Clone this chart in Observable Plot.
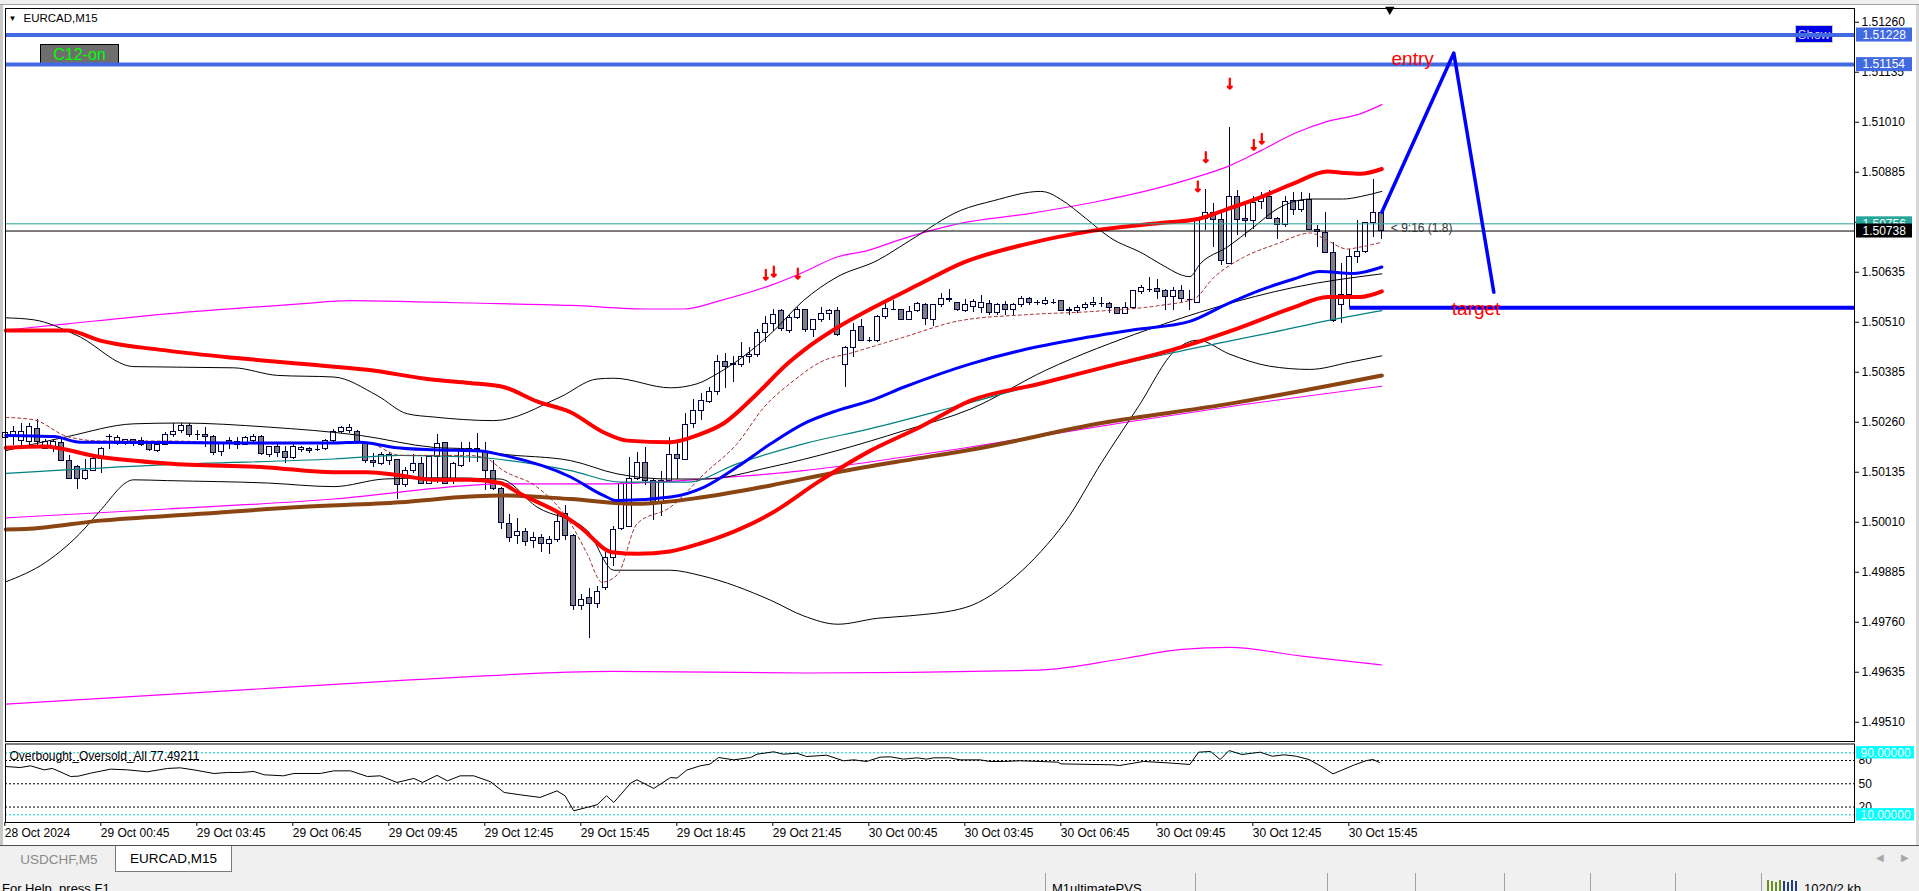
<!DOCTYPE html>
<html><head><meta charset="utf-8">
<script src="https://cdn.jsdelivr.net/npm/d3@7"></script>
<script src="https://cdn.jsdelivr.net/npm/@observablehq/plot@0.6"></script>
<style>
body{margin:0;width:1919px;height:891px;overflow:hidden;background:#fff;position:relative;font-family:"Liberation Sans",Arial,sans-serif}
.abs{position:absolute}
#main{position:absolute;left:0;top:0;z-index:2}
#osc{position:absolute;left:0;top:742px;z-index:2}
.lbl{font-size:13.5px;line-height:24px;text-align:center}
</style></head><body>
<div class="abs" style="left:0;top:0;width:1919px;height:4px;background:#f0f0f0;border-bottom:1px solid #a0a0a0"></div>
<div class="abs" style="left:0;top:5px;width:3px;height:840px;background:#c8c8c8"></div>
<div class="abs" style="left:1916px;top:5px;width:3px;height:840px;background:#d8d8d8"></div>
<div class="abs" style="left:40px;top:44px;width:77px;height:20px;background:#6e6e6e;border:1px solid #000;z-index:1;color:#00ff00;font-size:16px;line-height:20px;text-align:center">C12-on</div>
<div class="abs" style="left:1795px;top:25px;width:36px;height:16px;background:#0000e6;border:1px solid #c8c8c8;z-index:1;color:#d8d8ff;font-size:13px;line-height:17px;text-align:center">Show</div>
<div id="main"></div>
<div id="osc"></div>
<div class="abs" style="left:0;top:845px;width:1919px;height:1px;background:#505050"></div>
<div class="abs" style="left:0;top:846px;width:1919px;height:27px;background:#f0f0f0"></div>
<div class="abs lbl" style="left:4px;top:848px;width:110px;height:24px;color:#8a8a8a">USDCHF,M5</div>
<div class="abs lbl" style="left:115px;top:846px;width:115px;height:25px;background:#fff;border:1px solid #7a7a7a;border-top:none;color:#000;line-height:26px">EURCAD,M15</div>
<div class="abs" style="left:1876px;top:852px;color:#a8a8a8;font-size:10px">&#9664;</div>
<div class="abs" style="left:1901px;top:852px;color:#a8a8a8;font-size:10px">&#9654;</div>
<div id="status" class="abs" style="left:0;top:873px;width:1919px;height:18px;background:#f0f0f0;font-size:13px;line-height:15px"></div>
<script>
// ---------- data ----------
const candleOpen = [1.50220,1.50224,1.50214,1.50210,1.50243,1.50193,1.50197,1.50208,1.50164,1.50147,
1.50118,1.50139,1.50168,1.50222,1.50206,1.50206,1.50216,1.50213,1.50206,1.50187,
1.50204,1.50227,1.50237,1.50251,1.50229,1.50229,1.50224,1.50185,1.50212,1.50210,
1.50203,1.50214,1.50223,1.50179,1.50199,1.50185,1.50171,1.50191,1.50193,1.50193,
1.50193,1.50213,1.50235,1.50237,1.50235,1.50208,1.50164,1.50156,1.50164,1.50166,
1.50102,1.50137,1.50156,1.50106,1.50172,1.50208,1.50118,1.50151,1.50189,1.50193,
1.50185,1.50139,1.50093,1.50006,1.49975,1.49985,1.49962,1.49970,1.49955,1.49965,
1.50030,1.49975,1.49800,1.49820,1.49805,1.49846,1.49920,1.49993,1.49998,1.50118,
1.50157,1.50114,1.50056,1.50114,1.50178,1.50166,1.50256,1.50288,1.50310,1.50335,
1.50410,1.50402,1.50404,1.50424,1.50427,1.50483,1.50506,1.50537,1.50489,1.50521,
1.50541,1.50491,1.50516,1.50531,1.50538,1.50404,1.50446,1.50498,1.50464,1.50463,
1.50523,1.50543,1.50541,1.50516,1.50538,1.50552,1.50516,1.50552,1.50566,1.50558,
1.50539,1.50549,1.50546,1.50556,1.50533,1.50553,1.50541,1.50554,1.50569,1.50558,
1.50556,1.50560,1.50563,1.50539,1.50539,1.50546,1.50552,1.50558,1.50556,1.50546,
1.50531,1.50546,1.50585,1.50593,1.50593,1.50589,1.50573,1.50589,1.50568,1.50558,
1.50768,1.50783,1.50766,1.50656,1.50824,1.50768,1.50764,1.50810,1.50823,1.50768,
1.50752,1.50813,1.50791,1.50816,1.50741,1.50733,1.50683,1.50554,1.50577,1.50673,
1.50685,1.50758,1.50783];
const candleHigh = [1.50240,1.50250,1.50256,1.50256,1.50268,1.50216,1.50216,1.50216,1.50176,1.50151,
1.50168,1.50171,1.50197,1.50229,1.50227,1.50218,1.50218,1.50223,1.50210,1.50208,
1.50235,1.50256,1.50256,1.50256,1.50239,1.50247,1.50227,1.50208,1.50223,1.50223,
1.50224,1.50229,1.50227,1.50199,1.50206,1.50199,1.50210,1.50200,1.50197,1.50202,
1.50216,1.50241,1.50249,1.50254,1.50239,1.50210,1.50182,1.50185,1.50185,1.50168,
1.50147,1.50179,1.50172,1.50176,1.50229,1.50210,1.50160,1.50210,1.50210,1.50231,
1.50210,1.50164,1.50098,1.50029,1.50020,1.49995,1.49985,1.49980,1.49975,1.50030,
1.50051,1.49980,1.49830,1.49845,1.49850,1.49935,1.50000,1.50110,1.50171,1.50185,
1.50198,1.50118,1.50137,1.50223,1.50210,1.50281,1.50316,1.50331,1.50348,1.50427,
1.50433,1.50424,1.50460,1.50448,1.50491,1.50524,1.50541,1.50543,1.50527,1.50548,
1.50543,1.50518,1.50546,1.50543,1.50548,1.50449,1.50506,1.50516,1.50471,1.50527,
1.50560,1.50564,1.50543,1.50549,1.50560,1.50556,1.50554,1.50581,1.50593,1.50560,
1.50566,1.50566,1.50577,1.50564,1.50556,1.50562,1.50556,1.50574,1.50573,1.50564,
1.50573,1.50568,1.50564,1.50546,1.50552,1.50560,1.50573,1.50573,1.50560,1.50548,
1.50560,1.50589,1.50602,1.50621,1.50618,1.50591,1.50598,1.50602,1.50589,1.50772,
1.50843,1.50806,1.50781,1.50996,1.50839,1.50810,1.50824,1.50835,1.50839,1.50773,
1.50824,1.50835,1.50835,1.50831,1.50752,1.50785,1.50710,1.50658,1.50691,1.50764,
1.50760,1.50866,1.50783];
const candleLow = [1.50212,1.50203,1.50200,1.50200,1.50202,1.50191,1.50185,1.50164,1.50118,1.50091,
1.50114,1.50139,1.50132,1.50193,1.50202,1.50202,1.50200,1.50200,1.50187,1.50185,
1.50202,1.50223,1.50231,1.50223,1.50214,1.50197,1.50176,1.50174,1.50193,1.50191,
1.50202,1.50210,1.50176,1.50172,1.50172,1.50157,1.50168,1.50185,1.50181,1.50187,
1.50189,1.50210,1.50232,1.50232,1.50208,1.50157,1.50147,1.50151,1.50151,1.50068,
1.50097,1.50132,1.50104,1.50104,1.50106,1.50104,1.50104,1.50147,1.50160,1.50160,
1.50089,1.50089,1.49993,1.49960,1.49955,1.49950,1.49945,1.49935,1.49930,1.49960,
1.49965,1.49790,1.49790,1.49720,1.49795,1.49840,1.49900,1.49989,1.49996,1.50114,
1.50102,1.50014,1.50024,1.50114,1.50116,1.50166,1.50244,1.50264,1.50306,1.50327,
1.50345,1.50360,1.50398,1.50406,1.50423,1.50460,1.50488,1.50488,1.50483,1.50518,
1.50485,1.50471,1.50510,1.50514,1.50474,1.50346,1.50421,1.50463,1.50460,1.50460,
1.50516,1.50539,1.50514,1.50514,1.50535,1.50502,1.50499,1.50548,1.50560,1.50538,
1.50535,1.50535,1.50532,1.50527,1.50527,1.50527,1.50527,1.50547,1.50552,1.50552,
1.50552,1.50554,1.50537,1.50527,1.50533,1.50539,1.50548,1.50548,1.50533,1.50531,
1.50529,1.50543,1.50579,1.50585,1.50568,1.50539,1.50539,1.50560,1.50539,1.50558,
1.50739,1.50698,1.50652,1.50656,1.50727,1.50723,1.50743,1.50793,1.50768,1.50718,
1.50746,1.50777,1.50785,1.50739,1.50696,1.50683,1.50510,1.50508,1.50546,1.50658,
1.50681,1.50723,1.50718];
const candleClose = [1.50234,1.50235,1.50235,1.50249,1.50210,1.50210,1.50210,1.50164,1.50118,1.50118,
1.50139,1.50168,1.50193,1.50223,1.50221,1.50216,1.50206,1.50202,1.50191,1.50204,
1.50229,1.50235,1.50251,1.50227,1.50229,1.50223,1.50182,1.50206,1.50206,1.50203,
1.50221,1.50223,1.50181,1.50197,1.50182,1.50171,1.50197,1.50196,1.50187,1.50193,
1.50213,1.50235,1.50246,1.50246,1.50210,1.50162,1.50157,1.50179,1.50179,1.50102,
1.50137,1.50156,1.50106,1.50172,1.50206,1.50106,1.50156,1.50189,1.50193,1.50191,
1.50139,1.50093,1.50008,1.49970,1.49985,1.49960,1.49970,1.49955,1.49965,1.50010,
1.49975,1.49800,1.49815,1.49805,1.49835,1.49920,1.49990,1.50106,1.50118,1.50157,
1.50114,1.50056,1.50114,1.50177,1.50168,1.50254,1.50288,1.50313,1.50335,1.50410,
1.50398,1.50406,1.50423,1.50427,1.50483,1.50506,1.50527,1.50493,1.50521,1.50541,
1.50491,1.50516,1.50531,1.50538,1.50477,1.50446,1.50488,1.50464,1.50464,1.50524,
1.50543,1.50543,1.50516,1.50535,1.50556,1.50518,1.50552,1.50568,1.50567,1.50541,
1.50552,1.50560,1.50558,1.50533,1.50552,1.50541,1.50552,1.50569,1.50558,1.50559,
1.50562,1.50560,1.50539,1.50540,1.50546,1.50552,1.50559,1.50558,1.50546,1.50531,
1.50546,1.50587,1.50596,1.50593,1.50585,1.50573,1.50589,1.50568,1.50568,1.50768,
1.50783,1.50766,1.50663,1.50824,1.50766,1.50764,1.50808,1.50823,1.50768,1.50752,
1.50810,1.50791,1.50813,1.50741,1.50735,1.50683,1.50512,1.50578,1.50673,1.50685,
1.50758,1.50783,1.50739];

// indicator lines: [bar index, price]
const maSlowUpper = [[0,1.50489],[7.7,1.50489],[11.8,1.50464],[20.2,1.50439],[28.5,1.50421],[36.8,1.50406],[45.2,1.50391],[53.5,1.50366],[58,1.50358],[62.2,1.50348],[66.4,1.50312],[70.6,1.50285],[74.7,1.50235],[77.7,1.50214],[83.1,1.50210],[86.4,1.50227],[89.8,1.50258],[93.5,1.50323],[97.7,1.50406],[99.7,1.50439],[103.9,1.50496],[108.1,1.50543],[114.3,1.50606],[119.3,1.50656],[127.7,1.50706],[136,1.50739],[144.3,1.50758],[149,1.50768],[152.7,1.50793],[156.9,1.50823],[161,1.50857],[165.2,1.50887],[167.3,1.50883],[169.3,1.50881],[172,1.50893]];
const maSlowLower = [[0,1.50196],[4.7,1.50199],[11.8,1.50173],[20.2,1.50157],[32.7,1.50147],[41,1.50135],[45.2,1.50135],[49.3,1.50127],[53.5,1.50116],[58,1.50116],[61.8,1.50108],[64.3,1.50081],[69.7,1.50027],[71.8,1.49998],[75.8,1.49935],[79,1.49931],[83,1.49937],[87,1.49958],[91.3,1.49989],[95.6,1.50031],[101.8,1.50114],[108.1,1.50189],[114.3,1.50248],[120.6,1.50314],[129,1.50355],[137,1.50396],[146,1.50442],[153.5,1.50491],[161,1.50547],[165.2,1.50573],[169.3,1.50573],[172,1.50587]];
const maBlue = [[0,1.50227],[6,1.50224],[9.3,1.50210],[20,1.50209],[30,1.50208],[41,1.50208],[44.3,1.50210],[48.5,1.50197],[53.5,1.50191],[59.3,1.50188],[61.8,1.50179],[70.6,1.50123],[74.7,1.50077],[76.4,1.50064],[83.1,1.50073],[87.3,1.50098],[91.4,1.50148],[95.6,1.50206],[99.7,1.50256],[103.9,1.50289],[108.1,1.50314],[112.3,1.50348],[120.6,1.50406],[127,1.50440],[134,1.50468],[141,1.50491],[148,1.50512],[152.7,1.50556],[156.9,1.50591],[161,1.50618],[164.3,1.50637],[168.5,1.50632],[172,1.50648]];
const maTeal = [[0,1.50132],[20.2,1.50154],[41,1.50168],[49.3,1.50177],[58,1.50173],[70.6,1.50139],[76.9,1.50110],[85.2,1.50110],[91.4,1.50156],[99.7,1.50206],[108.1,1.50244],[118.5,1.50298],[130,1.50360],[145,1.50430],[159.8,1.50491],[165.2,1.50514],[172,1.50539]];
const maBrown = [[0,1.49992],[2.5,1.49993],[11.8,1.50014],[24.3,1.50031],[36.8,1.50048],[49.3,1.50060],[58,1.50074],[61.8,1.50077],[70.6,1.50068],[78.9,1.50056],[87.3,1.50073],[95.6,1.50102],[103.9,1.50135],[112.3,1.50164],[120.6,1.50191],[137,1.50258],[152.3,1.50304],[172,1.50377]];
const maFastDotted = [[0,1.50272],[3.5,1.50266],[7.7,1.50224],[12,1.50213],[20.2,1.50213],[32.7,1.50206],[41,1.50208],[45.2,1.50208],[49.3,1.50177],[57.7,1.50177],[60,1.50170],[62.2,1.50139],[66.4,1.50098],[70.5,1.50010],[72.7,1.49930],[74.5,1.49860],[76.5,1.49880],[78.9,1.50006],[83.1,1.50048],[87.3,1.50131],[91.4,1.50206],[94.8,1.50298],[98.5,1.50364],[101.8,1.50410],[106,1.50435],[112.3,1.50473],[119.3,1.50514],[127.7,1.50529],[136,1.50537],[144.3,1.50552],[148.5,1.50568],[151,1.50622],[154.7,1.50672],[158.9,1.50706],[163.1,1.50733],[165.2,1.50714],[167.7,1.50693],[169.3,1.50698],[172,1.50710]];
const bandUpper = [[0,1.50521],[3.5,1.50516],[8.9,1.50477],[16,1.50399],[28.5,1.50396],[34,1.50377],[41,1.50373],[46.4,1.50327],[50.2,1.50281],[53.5,1.50273],[61,1.50264],[69.3,1.50323],[73.9,1.50368],[76,1.50370],[83.1,1.50346],[86.4,1.50356],[88.9,1.50381],[95.6,1.50481],[99.7,1.50564],[103.9,1.50623],[108.9,1.50664],[113,1.50714],[119.3,1.50789],[123.5,1.50814],[129.3,1.50837],[130.1,1.50835],[131.8,1.50818],[135.1,1.50768],[138,1.50722],[142.2,1.50681],[144.3,1.50656],[148,1.50624],[149.3,1.50656],[152.7,1.50698],[156,1.50748],[158.9,1.50793],[163.1,1.50818],[167.2,1.50818],[169.3,1.50824],[172,1.50837]];
const bandMiddle = [[0,1.50189],[7.7,1.50224],[16,1.50256],[21.8,1.50258],[32.7,1.50248],[44.3,1.50227],[53.5,1.50197],[58,1.50193],[61.8,1.50181],[70.6,1.50164],[76.4,1.50131],[83.1,1.50118],[87.3,1.50118],[95.6,1.50148],[103.9,1.50189],[112.3,1.50239],[120.6,1.50293],[130,1.50390],[142.7,1.50491],[151.4,1.50548],[161,1.50597],[172,1.50631]];
const bandLower = [[0,1.49861],[5,1.49910],[9.8,1.49993],[11.8,1.50039],[16,1.50116],[20.2,1.50114],[32.7,1.50108],[41,1.50099],[47.3,1.50118],[53.5,1.50121],[61.8,1.50118],[66.4,1.50048],[72.7,1.49989],[76,1.49890],[83,1.49890],[87,1.49876],[95.6,1.49815],[99.7,1.49776],[104,1.49755],[109,1.49770],[113,1.49776],[120,1.49797],[126.3,1.49876],[129.4,1.49937],[132.4,1.50010],[137,1.50160],[141.6,1.50300],[146.2,1.50440],[149,1.50465],[153,1.50430],[158,1.50400],[163,1.50392],[168,1.50410],[172,1.50426]];
const envUpper = [[0,1.50490],[1.4,1.50493],[7.7,1.50506],[20.2,1.50531],[36.8,1.50556],[43,1.50564],[53.5,1.50560],[58,1.50558],[70.6,1.50552],[80.6,1.50543],[84.8,1.50543],[89.3,1.50564],[95.6,1.50602],[99.7,1.50635],[103.9,1.50673],[107.7,1.50689],[111.4,1.50714],[119.3,1.50757],[127.7,1.50781],[136,1.50810],[142.7,1.50839],[148.5,1.50871],[152.7,1.50899],[156.9,1.50939],[161,1.50981],[165.2,1.51012],[169.3,1.51031],[172,1.51054]];
const envInner = [[0,1.50021],[20.2,1.50043],[41,1.50068],[58,1.50102],[61.8,1.50106],[74.7,1.50106],[87.3,1.50118],[99.7,1.50139],[112.3,1.50173],[120.6,1.50198],[140,1.50260],[155,1.50305],[172,1.50350]];
const envLower = [[0,1.49555],[25,1.49585],[50,1.49615],[76,1.49637],[100,1.49633],[129,1.49640],[140,1.49670],[147,1.49692],[153,1.49697],[162,1.49675],[172,1.49653]];

const fractalBars = [95,96,99,149,150,153,156,157];
const fractalPrices = [1.50616,1.50624,1.50619,1.50837,1.50910,1.51094,1.50941,1.50956];

const alertLevels = [1.51228, 1.51154];
const askLevel = 1.50756;
const lastPrice = 1.50738;
const targetLevel = 1.50546;
const targetStartBar = 168;
const zigzagBars = [172, 181, 186];
const zigzagPrices = [1.50785, 1.51183, 1.50585];
const shiftBar = 173;
const timerText = "< 9:16 (1.8)";

const priceTicks = [1.51260,1.51135,1.51010,1.50885,1.50760,1.50635,1.50510,1.50385,1.50260,1.50135,1.50010,1.49885,1.49760,1.49635,1.49510];
const timeTicks = [0,12,24,36,48,60,72,84,96,108,120,132,144,156,168];
const timeLabels = ["28 Oct 2024","29 Oct 00:45","29 Oct 03:45","29 Oct 06:45","29 Oct 09:45","29 Oct 12:45","29 Oct 15:45","29 Oct 18:45","29 Oct 21:45","30 Oct 00:45","30 Oct 03:45","30 Oct 06:45","30 Oct 09:45","30 Oct 12:45","30 Oct 15:45"];

const oscName = "Overbought_Oversold_All";
const oscLast = 77.49211;
const oscBandLevels = [90, 10];
const oscLevels = [80, 50, 20];
const oscValues = [[0,72.3],[1.8,71],[3.1,73.2],[4.8,68],[5.8,69.8],[6.8,65.5],[8.1,59.4],[9.1,59.9],[10.6,63.7],[13.1,68.9],[15.2,68],[17.7,65.5],[20.2,69.8],[21.8,70.6],[23.5,68],[26,63.3],[27.7,64.6],[29.3,64.6],[31,65.9],[32.3,61.6],[34.7,60.3],[36,63.3],[39.3,63.3],[41,66.7],[43.1,66.7],[45.2,59.4],[46.8,60.3],[48.9,51.7],[51,56.9],[52.1,51.7],[53.9,60.9],[55.2,53.8],[56.8,60.3],[58.5,60.3],[60.6,52.6],[62.3,38.8],[64.3,35.8],[66.8,32.4],[68.9,40.9],[69.9,34.5],[71,15.2],[73.9,22.9],[75.1,34.5],[76,25.9],[78.1,50.8],[78.9,55.1],[81,44],[83.1,58.2],[83.9,57.3],[85.1,67.6],[86.8,73.2],[88,75.3],[89.1,83.9],[91,80.9],[93.1,83.9],[93.9,88.2],[96,91.3],[97.2,88.2],[98.9,89.5],[100.1,85.2],[102.6,86.9],[104.7,79.7],[106,80.9],[107.6,78.8],[109.3,84.4],[110.6,84.8],[112.2,81.8],[113.9,83.5],[115.1,81.8],[116,83.5],[118,83.5],[119.3,80.9],[121.8,80.9],[123,78.8],[124.7,78.8],[126.8,79.7],[129.3,78.8],[131.5,77.9],[131.9,75.7],[138.4,74.5],[139.2,73.6],[142.2,78.8],[145.3,77],[148,74.9],[149.1,90.8],[150.6,91.7],[151.8,81.3],[152.9,92.9],[154.5,87.8],[156.8,90.8],[158.3,85.6],[159.8,87.4],[161.3,85.6],[162.9,81.3],[164.4,72.7],[165.9,62.8],[167.1,68],[168.6,74.5],[170.1,80],[170.9,81.3],[171.7,77.5]];

// ---------- layout ----------
const X0 = -0.0375, X1 = 231.0875;       // bar-index domain (8 px per bar)
const Y0 = 1.494618, Y1 = 1.512943;       // price domain (40000 px per unit)
const PX = 40000;
const FONT = "'Liberation Sans', Arial, sans-serif";
const NAVY = "#00003a";

const bars = candleOpen.map((o, i) => ({i, o, h: candleHigh[i], l: candleLow[i], c: candleClose[i]}));
const pts = arr => arr.map(([i, p]) => ({i, p}));
const fractals = fractalBars.map((i, k) => ({i, p: fractalPrices[k]}));
const zigzag = zigzagBars.map((i, k) => ({i, p: zigzagPrices[k]}));
const line = (arr, stroke, strokeWidth, extra = {}) =>
  Plot.line(pts(arr), {x: "i", y: "p", stroke, strokeWidth, curve: "monotone-x", ...extra});

const main = Plot.plot({
  width: 1919, height: 742,
  marginLeft: 5, marginRight: 65, marginTop: 8, marginBottom: 1,
  style: {background: "transparent", fontFamily: FONT, fontSize: "12px", overflow: "visible"},
  x: {domain: [X0, X1], range: [5, 1854], axis: null},
  y: {domain: [Y0, Y1], range: [741, 8], axis: null},
  marks: [
    // candles
    Plot.ruleX(bars, {x: "i", y1: "l", y2: "h", stroke: NAVY, strokeWidth: 1, shapeRendering: "crispEdges"}),
    Plot.rect(bars.filter(d => d.c !== d.o), {x1: d => d.i - 0.3, x2: d => d.i + 0.3, y1: "o", y2: "c",
      fill: d => d.c > d.o ? "white" : "#808080", stroke: NAVY, strokeWidth: 1, shapeRendering: "crispEdges"}),
    Plot.ruleY(bars.filter(d => d.c === d.o), {y: "c", x1: d => d.i - 0.3, x2: d => d.i + 0.3, stroke: NAVY, shapeRendering: "crispEdges"}),
    // indicators
    line(envLower, "#ff00ff", 1.2),
    line(envUpper, "#ff00ff", 1.2),
    line(envInner, "#ff00ff", 1.2),
    line(bandUpper, "#000000", 1),
    line(bandLower, "#000000", 1),
    line(bandMiddle, "#000000", 1),
    line(maTeal, "#008080", 1.2),
    line(maBrown, "#8b4513", 4),
    line(maFastDotted, "#a52a2a", 1, {strokeDasharray: "3,3"}),
    line(maBlue, "#0000ff", 3),
    line(maSlowLower, "#ff0000", 4),
    line(maSlowUpper, "#ff0000", 4),
    // horizontal levels
    Plot.ruleY([askLevel], {stroke: "#2aa198", strokeWidth: 1}),
    Plot.ruleY([lastPrice], {stroke: "#000000", strokeWidth: 1}),
    Plot.ruleY(alertLevels, {stroke: "#4169e1", strokeWidth: 4}),
    Plot.ruleY([targetLevel], {x1: targetStartBar, x2: X1, stroke: "#0000ff", strokeWidth: 4}),
    Plot.line(zigzag, {x: "i", y: "p", stroke: "#0000ff", strokeWidth: 3.5}),
    // fractal arrows
    Plot.vector(fractals, {x: "i", y: "p", length: 10, rotate: 180, anchor: "end", stroke: "#ff0000", strokeWidth: 2.2, r: 3.5}),
    // annotations
    Plot.text([zigzag[1]], {x: "i", y: "p", text: () => "entry", textAnchor: "end", dx: -20, dy: 6, fill: "#ff0000", fontSize: 19}),
    Plot.text([targetLevel], {x: zigzagBars[1], y: d => d, text: () => "target", textAnchor: "start", dx: -2, dy: 1, fill: "#ff0000", fontSize: 19}),
    Plot.text([lastPrice], {x: zigzagBars[0], y: d => d, text: () => timerText, textAnchor: "start", lineAnchor: "bottom", dx: 9, dy: 1, fill: "#333", fontSize: 12}),
    Plot.text(["EURCAD,M15"], {text: d => d, frameAnchor: "top-left", dx: 18, dy: 10, textAnchor: "start", lineAnchor: "middle", fontSize: 11.5, fill: "#000"}),
    Plot.text(["\u25BC"], {text: d => d, frameAnchor: "top-left", dx: 3, dy: 10, textAnchor: "start", lineAnchor: "middle", fontSize: 8, fill: "#000"}),
    Plot.dot([shiftBar], {x: d => d, frameAnchor: "top", symbol: "triangle", rotate: 180, r: 3.5, fill: "#000", stroke: "none", dy: 1}),
    // axis and frame
    Plot.frame({stroke: "#000"}),
    Plot.axisY(priceTicks, {anchor: "right", tickSize: 4, tickPadding: 3, tickFormat: d => d.toFixed(5), label: null, fontSize: 12}),
    // price labels on the scale
    Plot.rect([askLevel], {x1: X1 + 0.25, x2: X1 + 7.25, y1: d => d + 7 / PX, y2: d => d - 7 / PX, fill: "#26a69a"}),
    Plot.text([askLevel], {x: X1, y: d => d, dx: 8, text: d => d.toFixed(5), fill: "white", textAnchor: "start", fontSize: 12}),
    Plot.rect([lastPrice], {x1: X1 + 0.25, x2: X1 + 7.25, y1: d => d + 7 / PX, y2: d => d - 7 / PX, fill: "#000"}),
    Plot.text([lastPrice], {x: X1, y: d => d, dx: 8, text: d => d.toFixed(5), fill: "white", textAnchor: "start", fontSize: 12}),
    Plot.rect(alertLevels, {x1: X1 + 0.25, x2: X1 + 7.25, y1: d => d + 7 / PX, y2: d => d - 7 / PX, fill: "#4169e1"}),
    Plot.text(alertLevels, {x: X1, y: d => d, dx: 8, text: d => d.toFixed(5), fill: "white", textAnchor: "start", fontSize: 12})
  ]
});
document.getElementById("main").append(main);

const osc = Plot.plot({
  width: 1919, height: 98,
  marginLeft: 5, marginRight: 65, marginTop: 1.5, marginBottom: 18,
  style: {background: "transparent", fontFamily: FONT, fontSize: "12px", overflow: "visible"},
  x: {domain: [X0, X1], range: [5, 1854], axis: null},
  y: {domain: [0.06, 101.35], range: [80, 1.5], axis: null},
  marks: [
    Plot.ruleY(oscBandLevels, {stroke: "#00c8c8", strokeDasharray: "2,2"}),
    Plot.ruleY(oscLevels, {stroke: "#000", strokeDasharray: "2,2"}),
    Plot.line(pts(oscValues), {x: "i", y: "p", stroke: "#000", strokeWidth: 1}),
    Plot.text([oscName + " " + oscLast.toFixed(5)], {text: d => d, frameAnchor: "top-left", dx: 4, dy: 12.5, textAnchor: "start", lineAnchor: "middle", fontSize: 12, fill: "#000"}),
    Plot.frame({stroke: "#000"}),
    Plot.axisY(oscLevels, {anchor: "right", tickSize: 0, tickPadding: 4, tickFormat: d => String(d), label: null, fontSize: 12}),
    Plot.rect(oscBandLevels, {x1: X1 + 0.25, x2: X1 + 7.5, y1: d => d + 8, y2: d => d - 8, fill: "#00ffff"}),
    Plot.text(oscBandLevels, {x: X1, y: d => d, dx: 6, text: d => d.toFixed(5), fill: "white", textAnchor: "start", fontSize: 12}),
    Plot.axisX(timeTicks, {anchor: "bottom", tickSize: 4, tickPadding: 2, textAnchor: "start", dx: -1,
      tickFormat: d => timeLabels[timeTicks.indexOf(d)], label: null, fontSize: 12})
  ]
});
document.getElementById("osc").append(osc);

// status bar
const status = document.getElementById("status");
const seps = [1045, 1195, 1327, 1415, 1504, 1590, 1675, 1761];
seps.forEach(x => { const d = document.createElement("div"); d.className = "abs";
  d.style.cssText = `left:${x}px;top:0;width:1px;height:18px;background:#a0a0a0`; status.append(d); });
const addTxt = (x, t) => { const d = document.createElement("div"); d.className = "abs";
  d.style.cssText = `left:${x}px;top:8px;white-space:nowrap;color:#000`; d.textContent = t; status.append(d); };
addTxt(2, "For Help, press F1");
addTxt(1052, "M1ultimatePVS");
addTxt(1804, "1020/2 kb");
for (let k = 0; k < 8; k++) { const d = document.createElement("div"); d.className = "abs";
  d.style.cssText = `left:${1767 + k * 4}px;top:${7 + (k % 3)}px;width:2px;height:${11 - (k % 3)}px;background:${k < 4 ? "#6b8e23" : "#1f3f7f"}`; status.append(d); }
</script>
</body></html>
